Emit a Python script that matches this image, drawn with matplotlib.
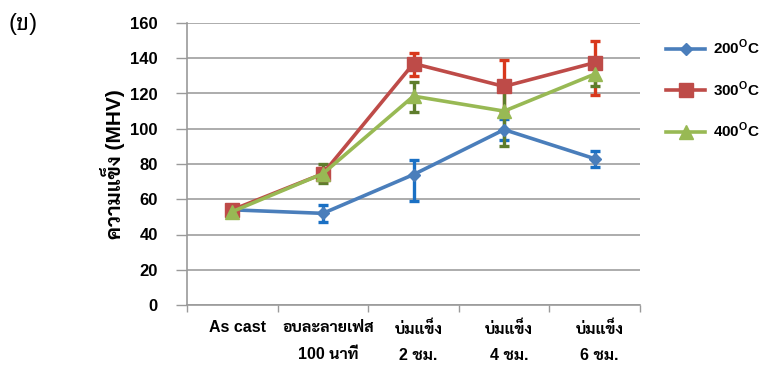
import matplotlib
matplotlib.use('Agg')
import matplotlib.pyplot as plt
from matplotlib import font_manager
from matplotlib.transforms import ScaledTranslation

# pick a looped Thai face that has a real bold file
thai_font = 'Noto Sans Thai Looped'
for fam in ['Sarabun', 'Niramit', 'Krub', 'K2D', 'Noto Sans Thai Looped']:
    fp = font_manager.FontProperties(family=fam, weight='bold')
    path = font_manager.findfont(fp, fallback_to_default=False)
    if fam.replace(' ', '').lower() in path.replace(' ', '').lower() and 'bold' in path.lower():
        thai_font = fam
        break

plt.rcParams['font.family'] = ['Liberation Sans', thai_font]
plt.rcParams['font.weight'] = 'bold'

categories = ['As cast', 'อบละลายเฟส\n100 นาที', 'บ่มแข็ง\n2 ชม.', 'บ่มแข็ง\n4 ชม.', 'บ่มแข็ง\n6 ชม.']
labels = ['200$^{\\mathregular{O}}$C', '300$^{\\mathregular{O}}$C', '400$^{\\mathregular{O}}$C']

hv_200 = [54, 52, 74, 99.5, 83]
hv_300 = [54, 74.5, 137, 124, 137.5]
hv_400 = [53, 74.5, 118.5, 110, 131]

# lower / upper error lengths
err_200_lo = [2, 5, 15, 6, 4.5]
err_200_hi = [2, 4.5, 8, 6, 4.5]
err_300_lo = [2, 3, 7, 14, 18.5]
err_300_hi = [2, 3, 6, 15, 12.5]
err_400_lo = [2, 5.5, 9, 20, 7]
err_400_hi = [2, 5.5, 8, 12, 7]

line_colors = ['#4A7EBB', '#BE4B48', '#98B954']
err_colors = ['#1A70C4', '#D8381C', '#5E7D2C']
markers = ['D', 's', '^']
msizes = [6.5, 9.5, 9.5]

fig = plt.figure(figsize=(7.73, 3.66), dpi=100)
ax = fig.add_axes([187 / 773, 1 - 305 / 366, (640 - 187) / 773, (305 - 23) / 366])

x = range(1, len(categories) + 1)
series = [hv_200, hv_300, hv_400]
errs = [[err_200_lo, err_200_hi], [err_300_lo, err_300_hi], [err_400_lo, err_400_hi]]

# error bars first so the lines sit on top
for vals, e, c in zip(series, errs, err_colors):
    ax.errorbar(x, vals, yerr=e, fmt='none', ecolor=c, elinewidth=2.4,
                capsize=3.5, capthick=2.4, zorder=2)

handles = []
for vals, lc, m, ms, lab in zip(series, line_colors, markers, msizes, labels):
    h, = ax.plot(x, vals, color=lc, linewidth=2.6, marker=m, markersize=ms,
                 markerfacecolor=lc, markeredgecolor=lc, label=lab, zorder=3)
    handles.append(h)

ax.set_xlim(0.5, 5.5)
ax.set_ylim(0, 160)
ax.set_yticks(range(0, 161, 20))
ax.set_xticks(list(x))
ax.set_xticklabels(categories, fontsize=11.5, linespacing=1.95, fontweight='bold')
ax.set_xticks([0.5, 1.5, 2.5, 3.5, 4.5, 5.5], minor=True)
ax.tick_params(axis='x', which='major', length=0, pad=11)
ax.tick_params(axis='x', which='minor', length=5, width=1, color='#9A9A9A')
ax.tick_params(axis='y', length=8, width=1, color='#9A9A9A', labelsize=12, pad=13)
shift = ScaledTranslation(5 / 100, 0, fig.dpi_scale_trans)
for t in ax.get_xticklabels():
    t.set_transform(t.get_transform() + shift)

ax.grid(axis='y', color='#A6A6A6', linewidth=1.3)
ax.set_axisbelow(True)
for s in ['top', 'right']:
    ax.spines[s].set_visible(False)
for s in ['left', 'bottom']:
    ax.spines[s].set_color('#9A9A9A')
    ax.spines[s].set_linewidth(1.2)

ax.set_ylabel('ความแข็ง (MHV)', fontsize=15, fontweight='bold', labelpad=4)

fig.legend(handles=handles, loc='upper left', bbox_to_anchor=(652 / 773, 1 - 24 / 366),
           frameon=False, fontsize=11, handlelength=2.6, labelspacing=1.45,
           handletextpad=0.5)

fig.text(9 / 773, 1 - 24 / 366, '(ข)', fontsize=17, fontweight='normal',
         family=['Liberation Sans', 'Noto Sans Thai Looped'], va='center')

fig.savefig('out.png')
